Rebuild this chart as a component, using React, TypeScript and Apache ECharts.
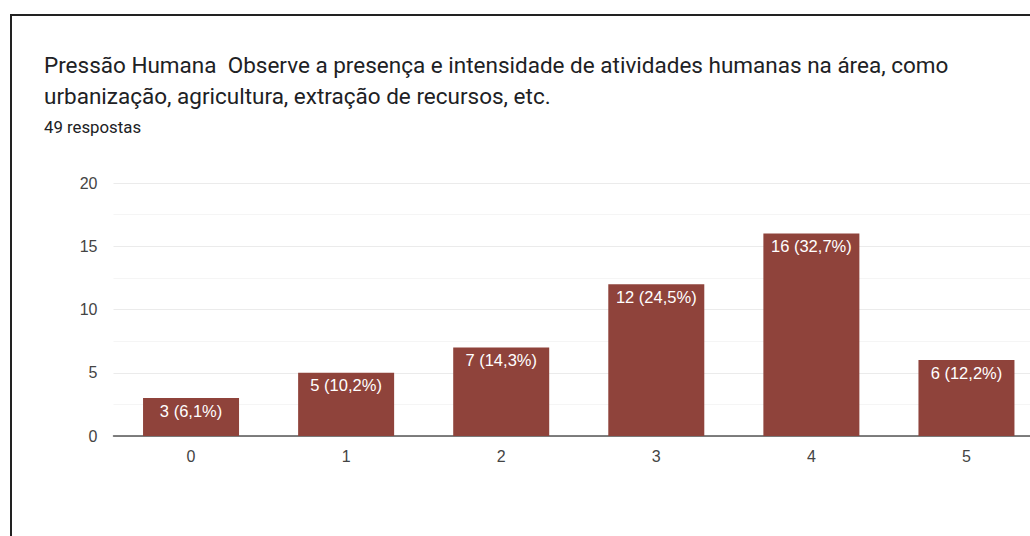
import React, { useEffect, useRef } from "react";
import * as echarts from "echarts";

const categories = ["0", "1", "2", "3", "4", "5"];
const counts = [3, 5, 7, 12, 16, 6];
const percents = ["6,1%", "10,2%", "14,3%", "24,5%", "32,7%", "12,2%"];
const titleLine1 = "Pressão Humana  Observe a presença e intensidade de atividades humanas na área, como";
const titleLine2 = "urbanização, agricultura, extração de recursos, etc.";
const subtitle = "49 respostas";

export default function App() {
  const ref = useRef<HTMLDivElement>(null);
  useEffect(() => {
    const chart = echarts.init(ref.current!, null, { renderer: "svg" });
    chart.setOption({
      animation: false,
      backgroundColor: "#ffffff",
      textStyle: { fontFamily: "Roboto, Arial, sans-serif" },
      graphic: [
        {
          type: "rect",
          shape: { x: 11, y: 15, width: 1200, height: 700 },
          style: { fill: "none", stroke: "#222222", lineWidth: 2 },
          silent: true,
        },
        {
          type: "text",
          x: 44,
          y: 65,
          style: { text: titleLine1, font: "22.5px Roboto, Arial, sans-serif", fill: "#202124", textVerticalAlign: "middle" },
        },
        {
          type: "text",
          x: 44,
          y: 96,
          style: { text: titleLine2, font: "22.5px Roboto, Arial, sans-serif", fill: "#202124", textVerticalAlign: "middle" },
        },
        {
          type: "text",
          x: 44,
          y: 127,
          style: { text: subtitle, font: "16.8px Roboto, Arial, sans-serif", fill: "#202124", textVerticalAlign: "middle" },
        },
      ],
      grid: { left: 113.5, right: 0, top: 183, bottom: 100, containLabel: false },
      xAxis: {
        type: "category",
        data: categories,
        axisTick: { show: false },
        axisLine: { lineStyle: { color: "#555555", width: 1.5 } },
        axisLabel: { color: "#444444", fontSize: 16, margin: 12, fontFamily: "Arial, sans-serif" },
      },
      yAxis: {
        type: "value",
        min: 0,
        max: 20,
        interval: 5,
        axisLine: { show: false },
        axisTick: { show: false },
        axisLabel: { color: "#444444", fontSize: 16, margin: 16, fontFamily: "Arial, sans-serif" },
        splitLine: { lineStyle: { color: "#ebebeb", width: 1 } },
        minorTick: { show: false, splitNumber: 2 },
        minorSplitLine: { show: true, lineStyle: { color: "#f5f5f5", width: 1 } },
      },
      series: [
        {
          type: "bar",
          data: counts,
          barWidth: 96,
          itemStyle: { color: "#8f433b" },
          label: {
            show: true,
            position: "insideTop",
            distance: 4,
            color: "#ffffff",
            fontSize: 16.5,
            fontFamily: "Arial, sans-serif",
            formatter: (p: any) => `${counts[p.dataIndex]} (${percents[p.dataIndex]})`,
          },
        },
      ],
    });
    return () => chart.dispose();
  }, []);
  return (
    <div style={{ position: "fixed", left: 0, top: 0, width: 1030, height: 536, overflow: "hidden" }}>
      <div ref={ref} style={{ width: 1044, height: 536 }} />
    </div>
  );
}
